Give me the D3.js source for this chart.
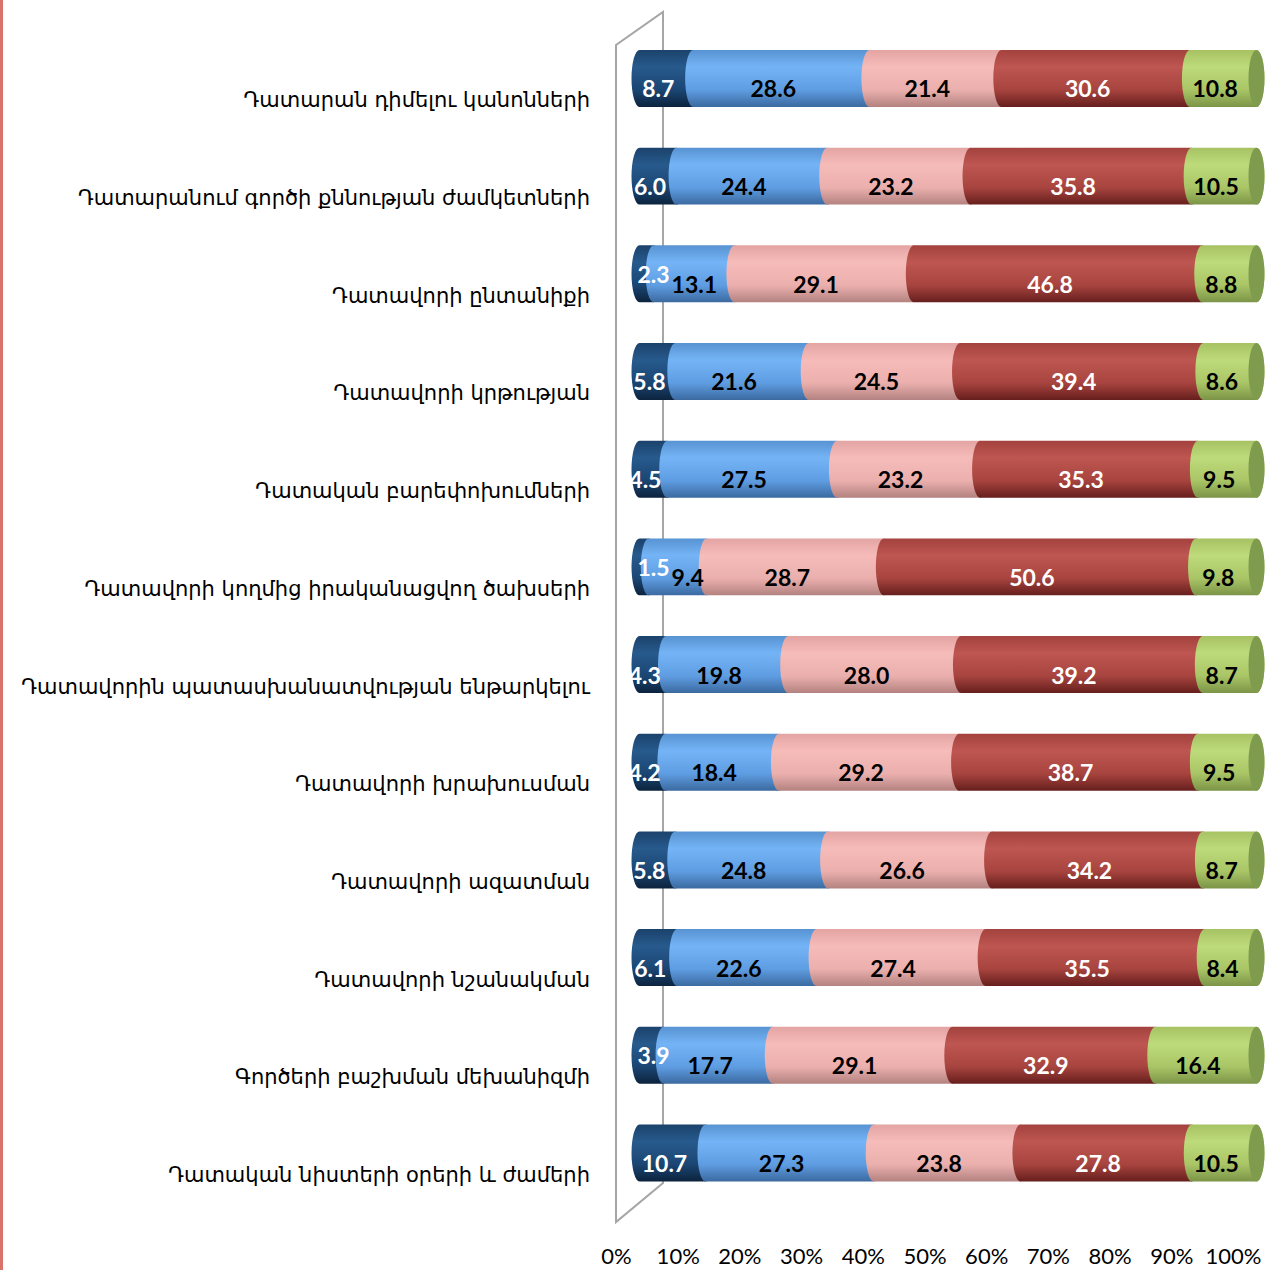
<!DOCTYPE html>
<html>
<head>
<meta charset="utf-8">
<script src="https://cdn.jsdelivr.net/npm/d3@7"></script>
<style>
  body { margin: 0; background: #fff; }
  .cat { font-family: "DejaVu Sans", sans-serif; font-size: 21px; fill: #000; }
  .val { font-family: Lato, "Open Sans", sans-serif; font-size: 23px; font-weight: bold; }
  .axis text { font-family: Lato, "Open Sans", sans-serif; font-size: 22px; fill: #000; }
</style>
</head>
<body>
<div id="chart"></div>
<script>
// categories, top to bottom
var categories = [
  "Դատարան դիմելու կանոնների",
  "Դատարանում գործի քննության ժամկետների",
  "Դատավորի ընտանիքի",
  "Դատավորի կրթության ",
  "Դատական բարեփոխումների",
  "Դատավորի կողմից իրականացվող ծախսերի",
  "Դատավորին պատասխանատվության ենթարկելու",
  "Դատավորի խրախուսման",
  "Դատավորի ազատման",
  "Դատավորի նշանակման",
  "Գործերի բաշխման մեխանիզմի",
  "Դատական նիստերի օրերի և ժամերի"
];

// one array per series (same order as categories)
var s1 = [8.7, 6.0, 2.3, 5.8, 4.5, 1.5, 4.3, 4.2, 5.8, 6.1, 3.9, 10.7];
var s2 = [28.6, 24.4, 13.1, 21.6, 27.5, 9.4, 19.8, 18.4, 24.8, 22.6, 17.7, 27.3];
var s3 = [21.4, 23.2, 29.1, 24.5, 23.2, 28.7, 28.0, 29.2, 26.6, 27.4, 29.1, 23.8];
var s4 = [30.6, 35.8, 46.8, 39.4, 35.3, 50.6, 39.2, 38.7, 34.2, 35.5, 32.9, 27.8];
var s5 = [10.8, 10.5, 8.8, 8.6, 9.5, 9.8, 8.7, 9.5, 8.7, 8.4, 16.4, 10.5];

var tickValues = [0, 10, 20, 30, 40, 50, 60, 70, 80, 90, 100];

var series = [s1, s2, s3, s4, s5];
// gradient stops: top, highlight, body, bottom
var seriesColors = [
  ["#1b426b", "#275a8d", "#1b4673", "#0c233d"],
  ["#5893d2", "#74b4f6", "#5f9de2", "#3b6aa0"],
  ["#e3a4a2", "#f6bcba", "#ebb0ae", "#b38280"],
  ["#a3423e", "#be5651", "#a8443f", "#661f1d"],
  ["#a6c263", "#bedb7c", "#a9c566", "#7b9447"]
];
var capColors = ["#163a60", "#4f86c6", "#c99896", "#8a302d", "#7f9b4e"];
var labelColors = ["#fff", "#000", "#000", "#fff", "#000"];

var width = 1277, height = 1270;
var depthX = 47, depthY = -35;   // 3d wall depth
var rx = 8;                      // half-width of the cylinder ellipses

var svg = d3.select("#chart").append("svg")
    .attr("width", width)
    .attr("height", height);

var defs = svg.append("defs");
seriesColors.forEach(function(c, i) {
  var g = defs.append("linearGradient")
      .attr("id", "grad" + i)
      .attr("x1", 0).attr("y1", 0).attr("x2", 0).attr("y2", 1);
  [[0, c[0]], [0.3, c[1]], [0.7, c[2]], [1, c[3]]].forEach(function(s) {
    g.append("stop").attr("offset", s[0]).attr("stop-color", s[1]);
  });
});

// left red border
svg.append("line")
    .attr("x1", 1.5).attr("x2", 1.5)
    .attr("y1", 0).attr("y2", height)
    .attr("stroke", "#d9726b")
    .attr("stroke-width", 3);

// front plane x scale (axis labels) and rows
var x = d3.scaleLinear().domain([0, 100]).range([616, 1233]);
var y = d3.scaleBand().domain(categories)
    .range([29.6, 1201.8])
    .paddingInner(0.417)
    .paddingOuter(0.2085);

// bars sit in the middle of the depth
function xb(v) { return x(v) + depthX / 2; }
function yb(c) { return y(c) + depthY / 2 + 17.5; }

// wall outline
var wTop = 45, wBot = 1222;
svg.append("path")
    .attr("d", "M" + x(0) + "," + wBot + "L" + x(0) + "," + wTop +
               "L" + (x(0) + depthX) + "," + (wTop + depthY + 2) +
               "L" + (x(0) + depthX) + "," + (wBot + depthY - 4) + "Z")
    .attr("fill", "none")
    .attr("stroke", "#a6a6a6")
    .attr("stroke-width", 2);

// stack rows
var rows = categories.map(function(c, i) {
  var vals = series.map(function(s) { return s[i]; });
  var total = d3.sum(vals);
  var acc = 0;
  var segs = vals.map(function(v, k) {
    var a = acc / total * 100;
    acc += v;
    return { cat: c, k: k, value: v, p0: a, p1: acc / total * 100 };
  });
  return { cat: c, segs: segs };
});

var rowG = svg.selectAll(".row")
    .data(rows)
    .enter().append("g")
      .attr("class", "row");

rowG.each(function(r) {
  var g = d3.select(this);
  var top = yb(r.cat), h = y.bandwidth(), bot = top + h, ry = h / 2;

  r.segs.forEach(function(s) {
    var x0 = xb(s.p0), x1 = xb(s.p1);
    g.append("path")
      .attr("d", "M" + x0 + "," + top +
                 "A" + rx + "," + ry + " 0 0 0 " + x0 + "," + bot +
                 "L" + x1 + "," + bot +
                 "A" + rx + "," + ry + " 0 0 0 " + x1 + "," + top + "Z")
      .attr("fill", "url(#grad" + s.k + ")");
    if (s.k == r.segs.length - 1) {
      g.append("ellipse")
        .attr("cx", x1).attr("cy", top + ry)
        .attr("rx", rx).attr("ry", ry)
        .attr("fill", capColors[s.k]);
    }
  });

  // value labels, nudged right when they collide
  var prevRight = -Infinity;
  r.segs.forEach(function(s) {
    var x0 = xb(s.p0), x1 = xb(s.p1);
    var cx = (x0 + x1) / 2 - rx;
    var dy = 10;
    if (s.value < 4) { cx = x0 + 14; dy = 0; }
    var t = g.append("text")
      .attr("class", "val")
      .attr("text-anchor", "middle")
      .attr("dominant-baseline", "central")
      .attr("y", top + ry + dy)
      .attr("fill", labelColors[s.k])
      .text(s.value.toFixed(1));
    var w = t.node().getComputedTextLength();
    if (cx - w / 2 < prevRight + 2) cx = prevRight + 2 + w / 2;
    t.attr("x", cx);
    prevRight = cx + w / 2;
  });
});

// category labels
svg.selectAll(".cat")
    .data(categories)
    .enter().append("text")
      .attr("class", "cat")
      .attr("x", 590)
      .attr("y", function(d) { return yb(d) + y.bandwidth() / 2 + 22; })
      .attr("text-anchor", "end")
      .attr("dominant-baseline", "central")
      .text(function(d) { return d; });

// x axis
var axis = svg.append("g")
    .attr("class", "axis")
    .attr("transform", "translate(0,1245)")
    .call(d3.axisBottom(x).tickValues(tickValues).tickSize(0)
      .tickFormat(function(d) { return d + "%"; }));
axis.select(".domain").remove();
</script>
</body>
</html>
